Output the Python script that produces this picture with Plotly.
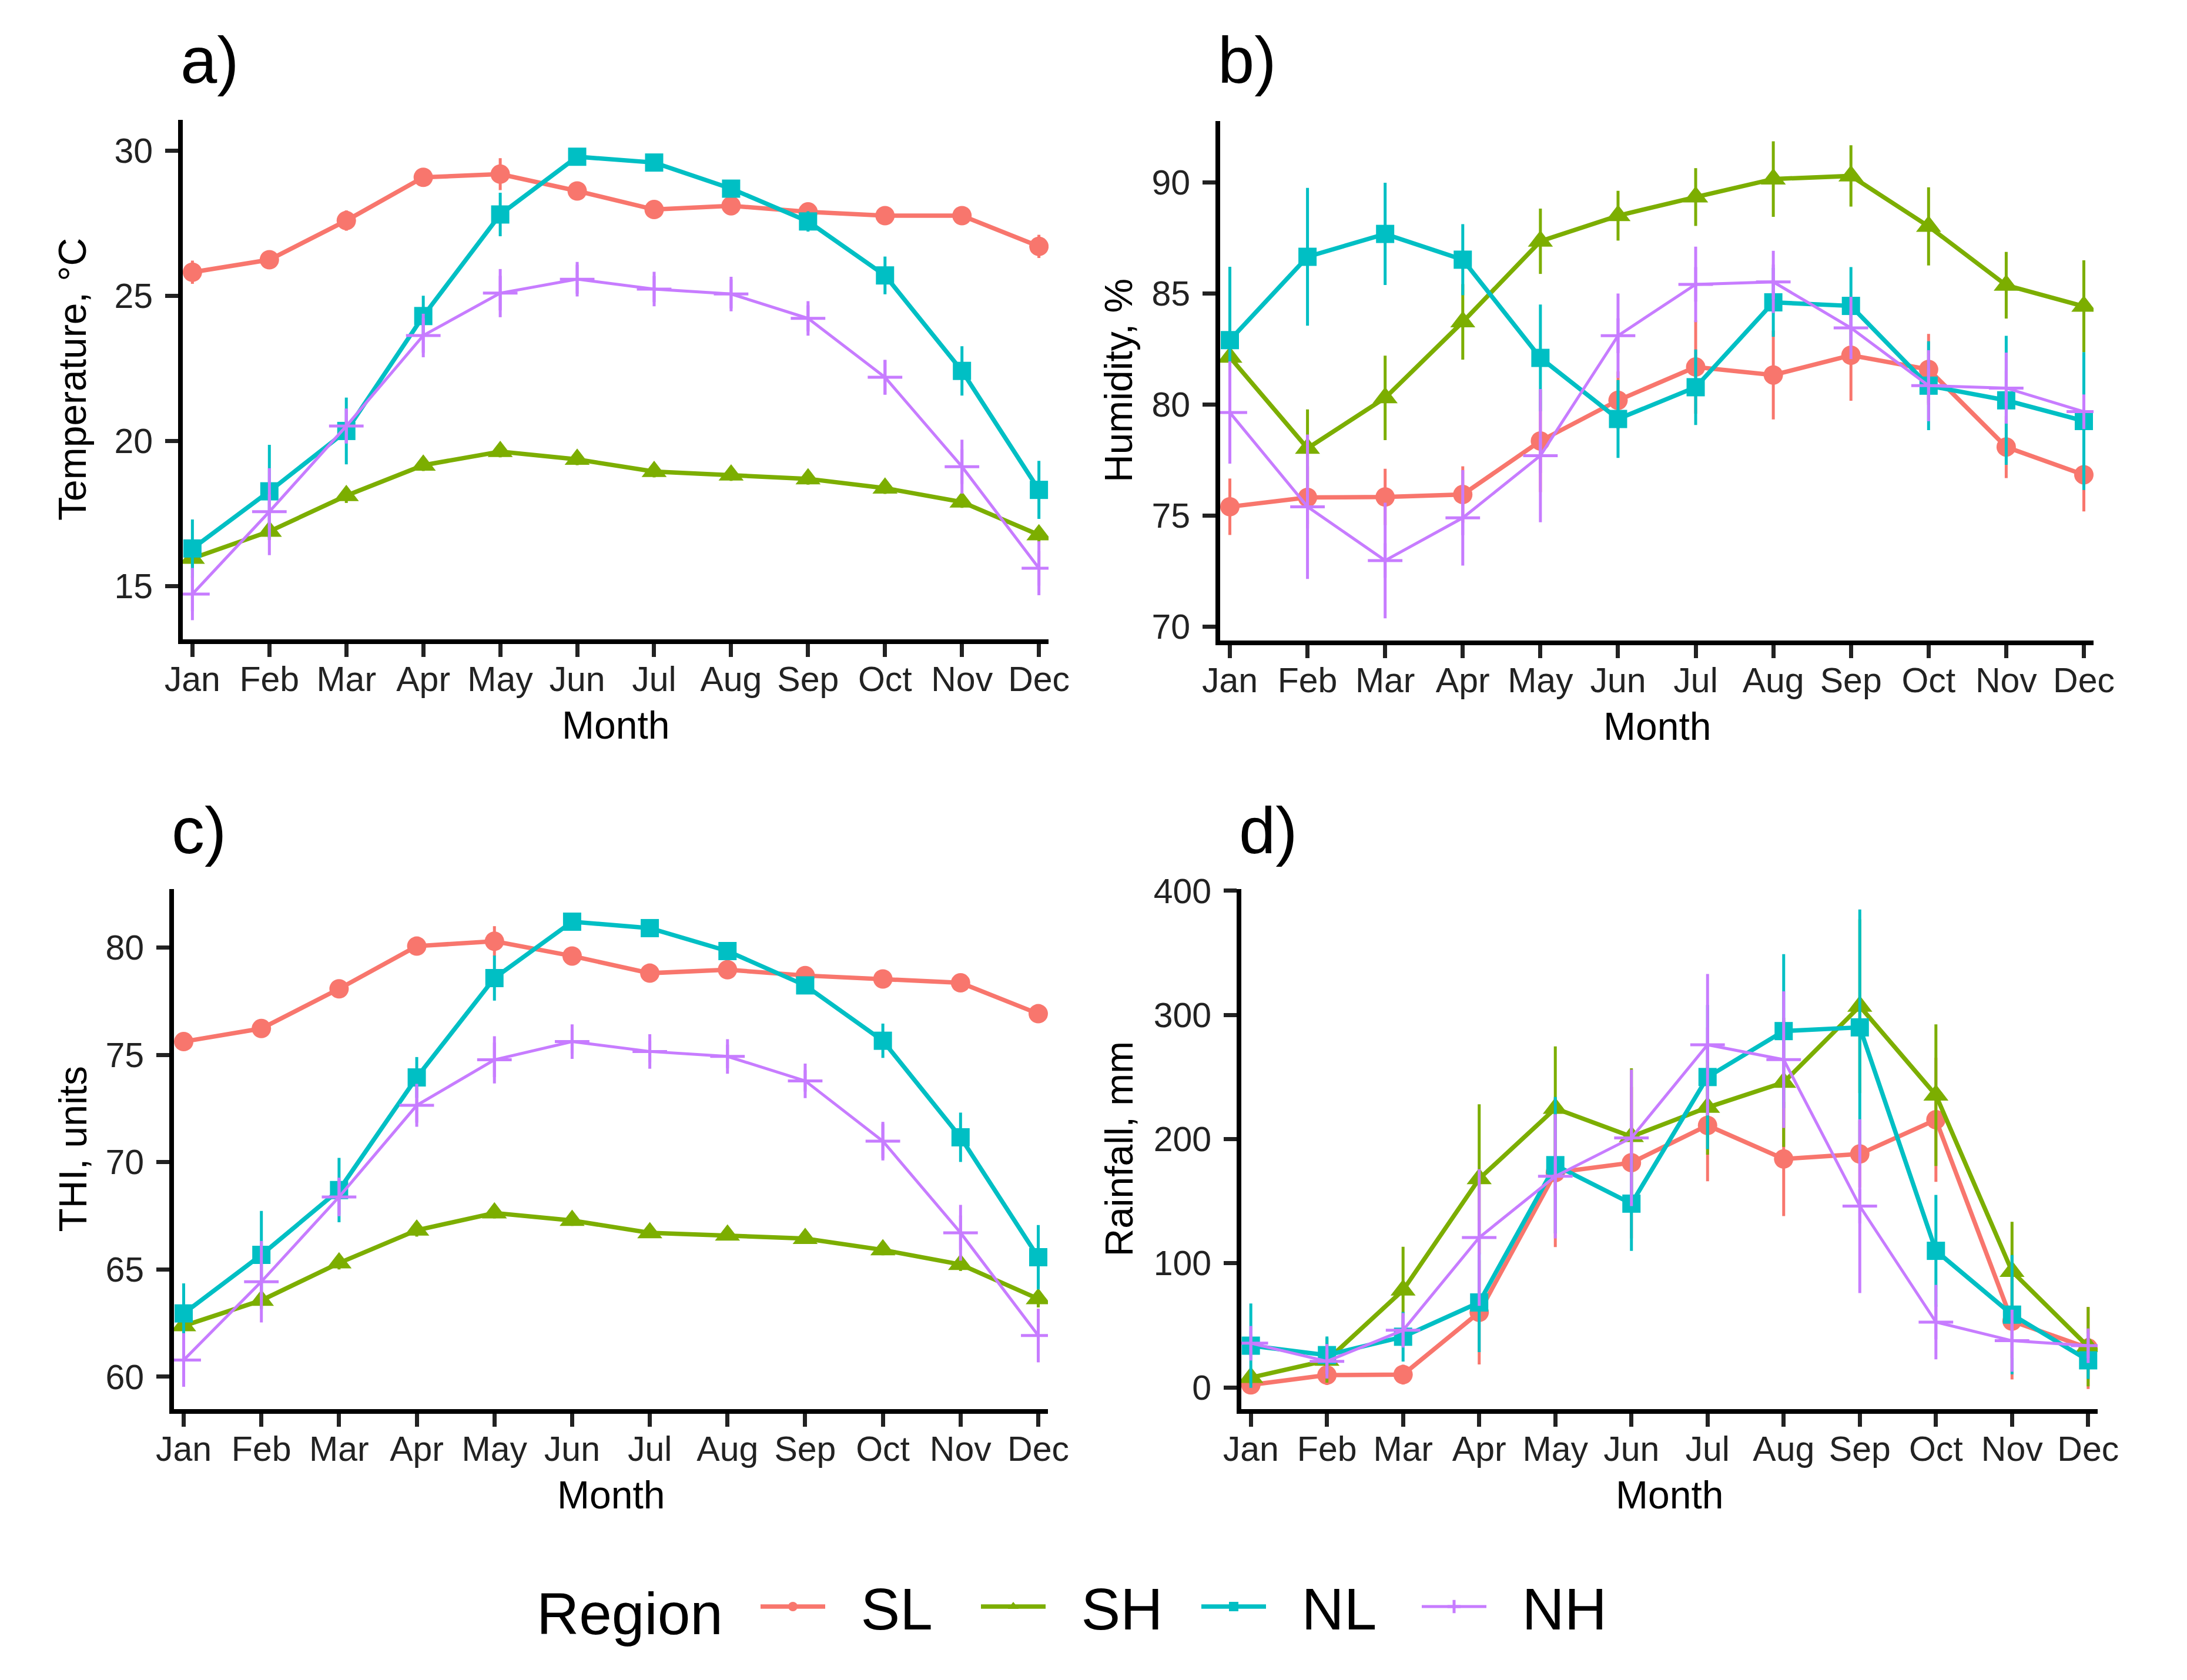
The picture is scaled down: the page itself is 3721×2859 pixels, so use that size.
import plotly.graph_objects as go

months = ["Jan", "Feb", "Mar", "Apr", "May", "Jun", "Jul", "Aug", "Sep", "Oct", "Nov", "Dec"]
month_idx = list(range(1, 13))
regions = ["SL", "SH", "NL", "NH"]

# Temperature, °C
temp_SL = [25.82, 26.25, 27.6, 29.09, 29.2, 28.62, 27.98, 28.11, 27.9, 27.77, 27.77, 26.71]
temp_SL_err = [0.4, 0.3, 0.35, 0.3, 0.55, 0.25, 0.25, 0.3, 0.3, 0.25, 0.3, 0.4]
temp_SH = [15.96, 16.89, 18.12, 19.17, 19.64, 19.37, 18.95, 18.83, 18.70, 18.38, 17.9, 16.77]
temp_SH_err = [0.4, 0.3, 0.25, 0.2, 0.2, 0.2, 0.2, 0.2, 0.2, 0.2, 0.2, 0.25]
temp_NL = [16.3, 18.27, 20.35, 24.31, 27.81, 29.8, 29.6, 28.7, 27.57, 25.71, 22.42, 18.32]
temp_NL_err = [1.0, 1.6, 1.15, 0.7, 0.75, 0.3, 0.25, 0.25, 0.35, 0.65, 0.85, 1.0]
temp_NH = [14.73, 17.57, 20.52, 23.64, 25.1, 25.58, 25.24, 25.07, 24.23, 22.2, 19.12, 15.62]
temp_NH_err = [0.9, 1.5, 0.6, 0.75, 0.83, 0.5, 0.45, 0.5, 0.45, 0.6, 0.93, 0.93]

# Humidity, %
hum_SL = [75.4, 75.82, 75.84, 75.95, 78.36, 80.19, 81.69, 81.33, 82.22, 81.58, 78.09, 76.84]
hum_SL_err = [1.27, 1.4, 1.27, 1.27, 2.3, 1.3, 2.1, 2.0, 2.05, 1.6, 1.4, 1.65]
hum_SH = [82.13, 78.03, 80.3, 83.72, 87.35, 88.5, 89.34, 90.15, 90.29, 88.02, 85.37, 84.42]
hum_SH_err = [1.4, 1.75, 1.9, 1.7, 1.47, 1.12, 1.3, 1.7, 1.38, 1.76, 1.5, 2.07]
hum_NL = [82.9, 86.65, 87.68, 86.52, 82.1, 79.35, 80.78, 84.6, 84.44, 80.85, 80.19, 79.26]
hum_NL_err = [3.3, 3.1, 2.3, 1.6, 2.4, 1.75, 1.7, 1.55, 1.75, 2.0, 2.9, 3.1]
hum_NH = [79.64, 75.4, 72.98, 74.9, 77.7, 83.1, 85.41, 85.52, 83.45, 80.85, 80.74, 79.68]
hum_NH_err = [2.3, 3.25, 2.6, 2.15, 3.0, 1.9, 1.7, 1.4, 1.4, 1.6, 1.6, 0.5]

# THI, units
thi_SL = [75.62, 76.23, 78.08, 80.07, 80.3, 79.61, 78.81, 78.97, 78.7, 78.54, 78.36, 76.92]
thi_SL_err = [0.4, 0.4, 0.4, 0.35, 0.7, 0.35, 0.3, 0.35, 0.35, 0.3, 0.35, 0.4]
thi_SH = [62.37, 63.56, 65.3, 66.83, 67.63, 67.28, 66.71, 66.6, 66.44, 65.91, 65.23, 63.63]
thi_SH_err = [0.8, 0.4, 0.3, 0.3, 0.25, 0.25, 0.25, 0.25, 0.25, 0.25, 0.3, 0.4]
thi_NL = [62.95, 65.68, 68.7, 73.95, 78.58, 81.21, 80.91, 79.84, 78.24, 75.66, 71.16, 65.57]
thi_NL_err = [1.4, 2.05, 1.5, 0.95, 1.05, 0.4, 0.35, 0.3, 0.4, 0.8, 1.15, 1.5]
thi_NH = [60.78, 64.43, 68.38, 72.65, 74.77, 75.62, 75.16, 74.93, 73.79, 70.98, 66.71, 61.92]
thi_NH_err = [1.25, 1.9, 0.9, 1.0, 1.1, 0.55, 0.5, 0.55, 0.5, 0.9, 1.3, 1.25]

# Rainfall, mm
rain_SL = [2, 9.9, 10.3, 60.5, 173, 181, 211, 184, 188, 215.6, 53.4, 31.7]
rain_SL_err = [5, 8, 8, 42, 60, 61, 45, 46, 27, 50, 47, 33]
rain_SH = [7.9, 21.8, 78.3, 168, 224.7, 202, 225.5, 245.7, 307, 235.4, 93.4, 32.8]
rain_SH_err = [5, 18, 35, 60, 50, 55, 38, 52, 70, 57, 40, 32]
rain_NL = [33.6, 26, 40.8, 68.4, 179, 148, 250, 287, 290, 110, 58.6, 21.8]
rain_NL_err = [34, 15, 20, 40, 55, 38, 58, 62, 95, 45, 48, 15]
rain_NH = [35.6, 21, 46, 120.7, 170, 201, 276, 264, 146, 52.6, 37.6, 33.6]
rain_NH_err = [10, 10, 12, 55, 50, 55, 57, 55, 70, 30, 25, 10]

y_titles = ["Temperature, °C", "Humidity, %", "THI, units", "Rainfall, mm"]
panel_tags = ["a)", "b)", "c)", "d)"]
x_title = "Month"
legend_title = "Region"

W, H = 3721, 2859
OFF = 9  # page offset of the figure in the photographed window
colors = {"SL": "#F8766D", "SH": "#7CAE00", "NL": "#00BFC4", "NH": "#C77CFF"}
symbols = {"SL": "circle", "SH": "triangle-up", "NL": "square", "NH": "cross-thin"}
msize = {"SL": 33, "SH": 37, "NL": 31, "NH": 42}


def fx(px):
    return (px - OFF) / W


def fy(py):
    return 1 - (py - OFF) / H


panels = [
    {"vals": {"SL": (temp_SL, temp_SL_err), "SH": (temp_SH, temp_SH_err), "NL": (temp_NL, temp_NL_err), "NH": (temp_NH, temp_NH_err)},
     "px": (312, 1785), "py": (205, 1089), "yr": [13.17, 31.07], "dtick": 5},
    {"vals": {"SL": (hum_SL, hum_SL_err), "SH": (hum_SH, hum_SH_err), "NL": (hum_NL, hum_NL_err), "NH": (hum_NH, hum_NH_err)},
     "px": (2077, 3563), "py": (207, 1091), "yr": [69.38, 92.76], "dtick": 5},
    {"vals": {"SL": (thi_SL, thi_SL_err), "SH": (thi_SH, thi_SH_err), "NL": (thi_NL, thi_NL_err), "NH": (thi_NH, thi_NH_err)},
     "px": (297, 1784), "py": (1514, 2399), "yr": [58.49, 82.73], "dtick": 5},
    {"vals": {"SL": (rain_SL, rain_SL_err), "SH": (rain_SH, rain_SH_err), "NL": (rain_NL, rain_NL_err), "NH": (rain_NH, rain_NH_err)},
     "px": (2113, 3570), "py": (1514, 2399), "yr": [-17.5, 401.4], "dtick": 100},
]

FONT = "Liberation Sans, Arial, sans-serif"
fig = go.Figure()
layout = dict(
    width=W, height=H, margin=dict(l=0, r=0, t=0, b=0, pad=0, autoexpand=False),
    autosize=False,
    paper_bgcolor="white", plot_bgcolor="white",
    font=dict(family=FONT, color="black"),
    showlegend=True,
)
annotations = []

for i, p in enumerate(panels):
    n = "" if i == 0 else str(i + 1)
    xa, ya = "x" + n, "y" + n
    for r in regions:
        y, e = p["vals"][r]
        is_nh = r == "NH"
        fig.add_trace(go.Scatter(
            x=month_idx, y=y, xaxis=xa, yaxis=ya, name="  " + r, legendgroup=r,
            showlegend=(i == 0), mode="lines+markers",
            line=dict(color=colors[r], width=5 if is_nh else 7.5),
            marker=dict(symbol=symbols[r], color=colors[r], size=msize[r],
                        line=dict(color=colors[r], width=5 if is_nh else 0)),
            error_y=dict(type="data", array=e, visible=True, width=0,
                         thickness=5, color=colors[r]),
        ))
    x0, x1 = p["px"]
    yt, yb = p["py"]
    axcommon = dict(showline=True, linewidth=8, linecolor="black", ticks="outside",
                    ticklen=22, tickwidth=7, tickcolor="#222222", showgrid=False,
                    zeroline=False, automargin=False,
                    tickfont=dict(size=59, color="#222222", family=FONT))
    layout["xaxis" + n] = dict(axcommon, domain=[fx(x0), fx(x1)], anchor=ya,
                               range=[0.875, 12.125], tickmode="array",
                               tickvals=month_idx, ticktext=months, ticklabelstandoff=-13)
    layout["yaxis" + n] = dict(axcommon, domain=[fy(yb), fy(yt)], anchor=xa,
                               range=p["yr"], dtick=p["dtick"], tick0=0, ticklabelstandoff=9)
    xc = (x0 + x1) / 2
    annotations.append(dict(text=x_title, x=fx(xc), y=fy(yb + 146), xref="paper", yref="paper",
                            showarrow=False, xanchor="center", yanchor="middle",
                            font=dict(size=66, color="black", family=FONT)))
    ytx = 124 if i in (0, 2) else 1904
    annotations.append(dict(text=y_titles[i], x=fx(ytx), y=fy((yt + yb) / 2), xref="paper", yref="paper",
                            showarrow=False, xanchor="center", yanchor="middle", textangle=-90,
                            font=dict(size=66, color="black", family=FONT)))
    tagx = x0 - 6
    tagy = 104 if i < 2 else 1414
    annotations.append(dict(text=panel_tags[i], x=fx(tagx), y=fy(tagy), xref="paper", yref="paper",
                            showarrow=False, xanchor="left", yanchor="middle",
                            font=dict(size=112, color="black", family=FONT)))

# legend title
annotations.append(dict(text=legend_title, x=fx(1233), y=fy(2747), xref="paper", yref="paper",
                        showarrow=False, xanchor="right", yanchor="middle",
                        font=dict(size=100, color="black", family=FONT)))

layout["annotations"] = annotations
layout["legend"] = dict(orientation="h", x=fx(1290), y=fy(2735), xanchor="left", yanchor="middle",
                        font=dict(size=100, family=FONT, color="black"), itemwidth=110,
                        entrywidth=250, entrywidthmode="pixels",
                        bgcolor="rgba(0,0,0,0)")
fig.update_layout(**layout)
fig.write_html("out.html")
